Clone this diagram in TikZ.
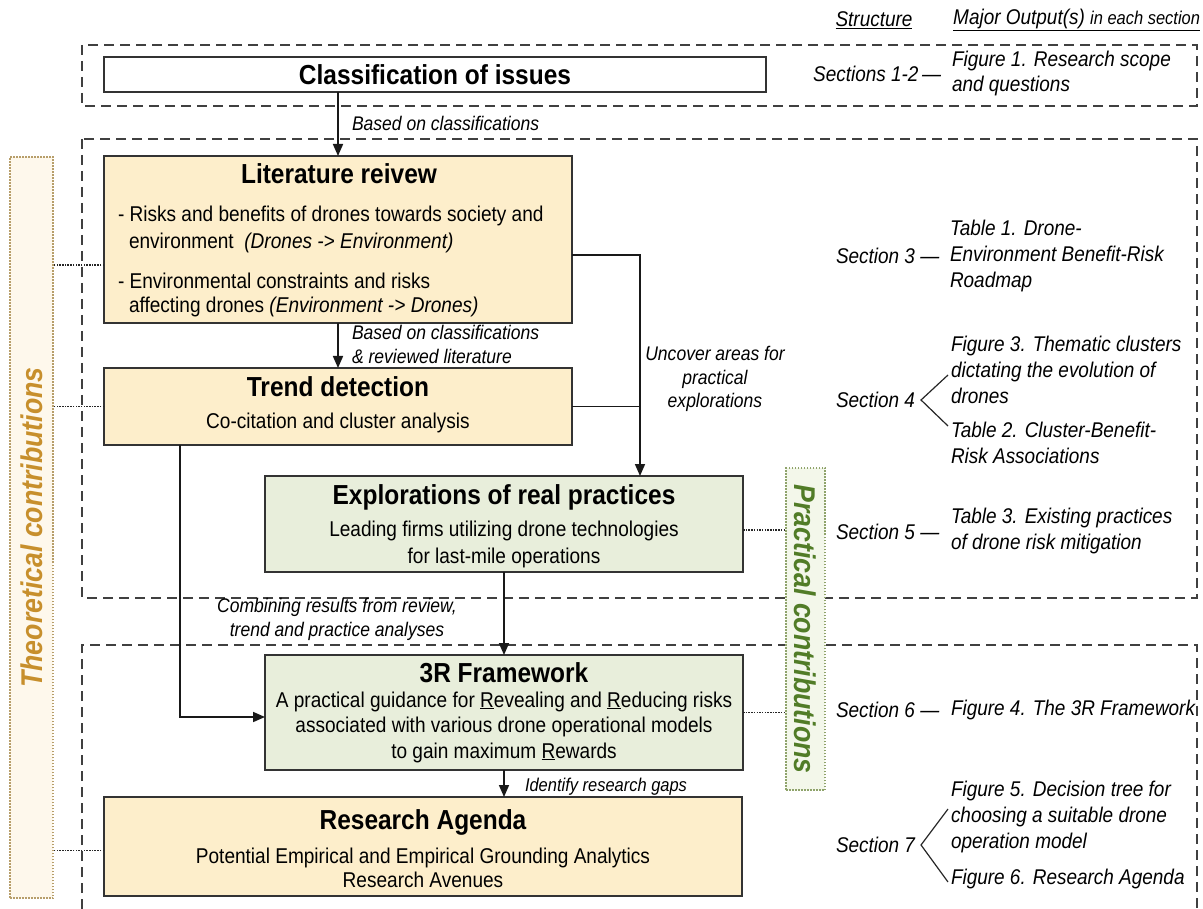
\documentclass[tikz,border=0pt]{standalone}
\usepackage{fontspec}
\setmainfont{Liberation Sans}[FakeStretch=0.89]
\usetikzlibrary{arrows.meta}

\definecolor{boxorange}{HTML}{FDEECB}
\definecolor{boxgreen}{HTML}{E8EEDB}
\definecolor{theofill}{HTML}{FEF8EC}
\definecolor{theoline}{HTML}{B79E6A}
\definecolor{theotext}{HTML}{C78F2C}
\definecolor{pracfill}{HTML}{F3F7EA}
\definecolor{pracline}{HTML}{8FA36B}
\definecolor{practext}{HTML}{517C27}
\definecolor{edge}{HTML}{333333}

\newcommand\fTitle{\fontsize{27.5}{31}\selectfont\bfseries}
\newcommand\fBody{\fontsize{21.4}{27}\selectfont}
\newcommand\fSide{\fontsize{21.3}{26}\selectfont\itshape}
\newcommand\fLab{\fontsize{19.7}{23.5}\selectfont\itshape}
\newcommand\fSmall{\fontsize{18.5}{21}\selectfont\itshape}
\newcommand\fVert{\fontsize{30}{34}\selectfont\bfseries\itshape}

\begin{document}
\begin{tikzpicture}[x=1pt,y=-1pt,
  every node/.style={inner sep=0pt, outer sep=0pt},
  dbox/.style={draw=black!75, line width=1.6pt, dash pattern=on 10pt off 6pt},
  wbox/.style={draw=edge, line width=1.8pt, fill=white},
  obox/.style={draw=edge, line width=1.8pt, fill=boxorange},
  gbox/.style={draw=edge, line width=1.8pt, fill=boxgreen},
  flow/.style={draw=black!90, line width=1.7pt},
  arr/.style={flow, -{Triangle[length=12pt,width=10pt]}},
  dots/.style={draw=black!85, line width=1.5pt, dash pattern=on 1.5pt off 1.2pt},
  bracket/.style={draw=black!85, line width=1.2pt},
  side/.style={font=\fSide, anchor=west, align=left},
]
\useasboundingbox (0,0) rectangle (1203,909);

% section frames
\draw[dbox] (82,45) rectangle (1197,106);
\draw[dbox] (82,139) rectangle (1197,598);
\draw[dbox] (82,909) -- (82,645) -- (1197,645) -- (1197,909);

% column headings
\node[font=\fSide] (hstruct) at (874,20) {\underline{Structure}};
\node[font=\fSide, anchor=east] (hout) at (1200,20) {\underline{Major Output(s)\ {\fontsize{18.5}{22}\selectfont in each section}}};

% main boxes
\node[wbox, minimum width=662pt, minimum height=35pt, font=\fTitle] (cls) at (435,74.5) {Classification of issues};
\node[obox, minimum width=468pt, minimum height=167pt] (lit) at (338,239.5) {};
\node[obox, minimum width=468pt, minimum height=77pt] (trend) at (338,406.5) {};
\node[gbox, minimum width=478pt, minimum height=96pt] (expl) at (504,524) {};
\node[gbox, minimum width=478pt, minimum height=115pt] (fw) at (504,712.5) {};
\node[obox, minimum width=638pt, minimum height=99pt] (ra) at (423,846.5) {};

% box contents
\node[font=\fTitle] (litT) at (339,174) {Literature reivew};
\node[font=\fBody, anchor=west] (lit1) at (118,216) {- Risks and benefits of drones towards society and};
\node[font=\fBody, anchor=west] (lit2) at (129,243) {environment\ \ \textit{(Drones -> Environment)}};
\node[font=\fBody, anchor=west] (lit3) at (118,281) {- Environmental constraints and risks};
\node[font=\fBody, anchor=west] (lit4) at (129,307) {affecting drones \textit{(Environment -> Drones)}};

\node[font=\fTitle] (trendT) at (338,387) {Trend detection};
\node[font=\fBody] (trend1) at (338,423) {Co-citation and cluster analysis};

\node[font=\fTitle] (explT) at (504,497) {Explorations of real practices};
\node[font=\fBody, align=center] (expl1) at (504,544) {Leading firms utilizing drone technologies\\for last-mile operations};

\node[font=\fTitle] (fwT) at (504,673) {3R Framework};
\node[font=\fBody, align=center, execute at begin node={\setlength{\baselineskip}{25.5pt}}] (fw1) at (504,727)
  {A practical guidance for \underline{R}evealing and \underline{R}educing risks\\associated with various drone operational models\\to gain maximum \underline{R}ewards};

\node[font=\fTitle] (raT) at (423,822) {Research Agenda};
\node[font=\fBody, align=center, execute at begin node={\setlength{\baselineskip}{24pt}}] (ra1) at (423,868)
  {Potential Empirical and Empirical Grounding Analytics\\Research Avenues};

% flow connectors
\draw[arr] (lit.north |- cls.south) -- (lit.north);
\draw[arr] (lit.south) -- (trend.north);
\coordinate (jn) at ([xshift=136pt]expl.north);
\draw[arr] ([yshift=-15.5pt]lit.east) -| (jn);
\draw[flow] (trend.east) -- (trend.east -| jn);
\draw[arr] ([xshift=-158pt]trend.south) |- ([yshift=-4.5pt]fw.west);
\draw[arr] (expl.south) -- (fw.north);
\draw[arr] (fw.south) -- (fw.south |- ra.north);

% connector labels
\node[font=\fLab, anchor=west] (l1) at (352,123) {Based on classifications};
\node[font=\fLab, anchor=west, align=left] (l2) at (352,344.5) {Based on classifications\\\& reviewed literature};
\node[font=\fLab, align=center] (l3) at (715,379) {Uncover areas for\\practical\\explorations};
\node[font=\fLab, align=center] (l4) at (337,619.5) {Combining results from review,\\trend and practice analyses};
\node[font=\fSmall, anchor=west] (l5) at (525,787) {Identify research gaps};

% contribution bands
\node[draw=theoline, fill=theofill, line width=1.3pt, dash pattern=on 1.5pt off 1.5pt,
      minimum width=43pt, minimum height=741pt] (theo) at (31.5,527.5) {};
\node[rotate=90, font=\fVert, text=theotext] (theoT) at (theo.center) {Theoretical contributions};
\node[draw=pracline, fill=pracfill, line width=1.3pt, dash pattern=on 1.5pt off 1.5pt,
      minimum width=39pt, minimum height=322pt] (prac) at (805.5,629) {};
\node[rotate=-90, font=\fVert, text=practext] (pracT) at (prac.center) {Practical contributions};

\draw[dots] ([yshift=-25.5pt]lit.west) -- ([yshift=-25.5pt]lit.west -| theo.east);
\draw[dots] (trend.west) -- (trend.west -| theo.east);
\draw[dots] ([yshift=-4pt]ra.west) -- ([yshift=-4pt]ra.west -| theo.east);
\draw[dots] ([yshift=-6pt]expl.east) -- ([yshift=-6pt]expl.east -| prac.west);
\draw[dots] (fw.east) -- (fw.east -| prac.west);

% structure column
\node[font=\fSide, anchor=east] (s12) at (941,74) {Sections 1-2\,—};
\node[side, execute at begin node={\setlength{\baselineskip}{25pt}}] (o1) at (952,73.5) {Figure 1. Research scope\\and questions};

\node[font=\fSide, anchor=west] (s3) at (836,256) {Section 3 —};
\node[side] (o3) at (950,256) {Table 1. Drone-\\Environment Benefit-Risk\\Roadmap};

\node[font=\fSide, anchor=west] (s4) at (836,400) {Section 4};
\coordinate (b4) at ([xshift=6pt]s4.east);
\coordinate (b4u) at (948,375);
\coordinate (b4d) at (948,426);
\draw[bracket] (b4u) -- (b4) -- (b4d);
\node[side] (o4a) at (951,370) {Figure 3. Thematic clusters\\dictating the evolution of\\drones};
\node[side] (o4b) at (951,443) {Table 2. Cluster-Benefit-\\Risk Associations};

\node[font=\fSide, anchor=west] (s5) at (836,532) {Section 5 —};
\node[side] (o5) at (951,531) {Table 3. Existing practices\\of drone risk mitigation};

\node[font=\fSide, anchor=west] (s6) at (836,710) {Section 6 —};
\node[side] (o6) at (951,710) {Figure 4. The 3R Framework};

\node[font=\fSide, anchor=west] (s7) at (836,845) {Section 7};
\coordinate (b7) at ([xshift=6pt]s7.east);
\coordinate (b7u) at (948,809);
\coordinate (b7d) at (948,882);
\draw[bracket] (b7u) -- (b7) -- (b7d);
\node[side] (o7a) at (951,817) {Figure 5. Decision tree for\\choosing a suitable drone\\operation model};
\node[side] (o7b) at (951,879) {Figure 6. Research Agenda};
\end{tikzpicture}
\end{document}
